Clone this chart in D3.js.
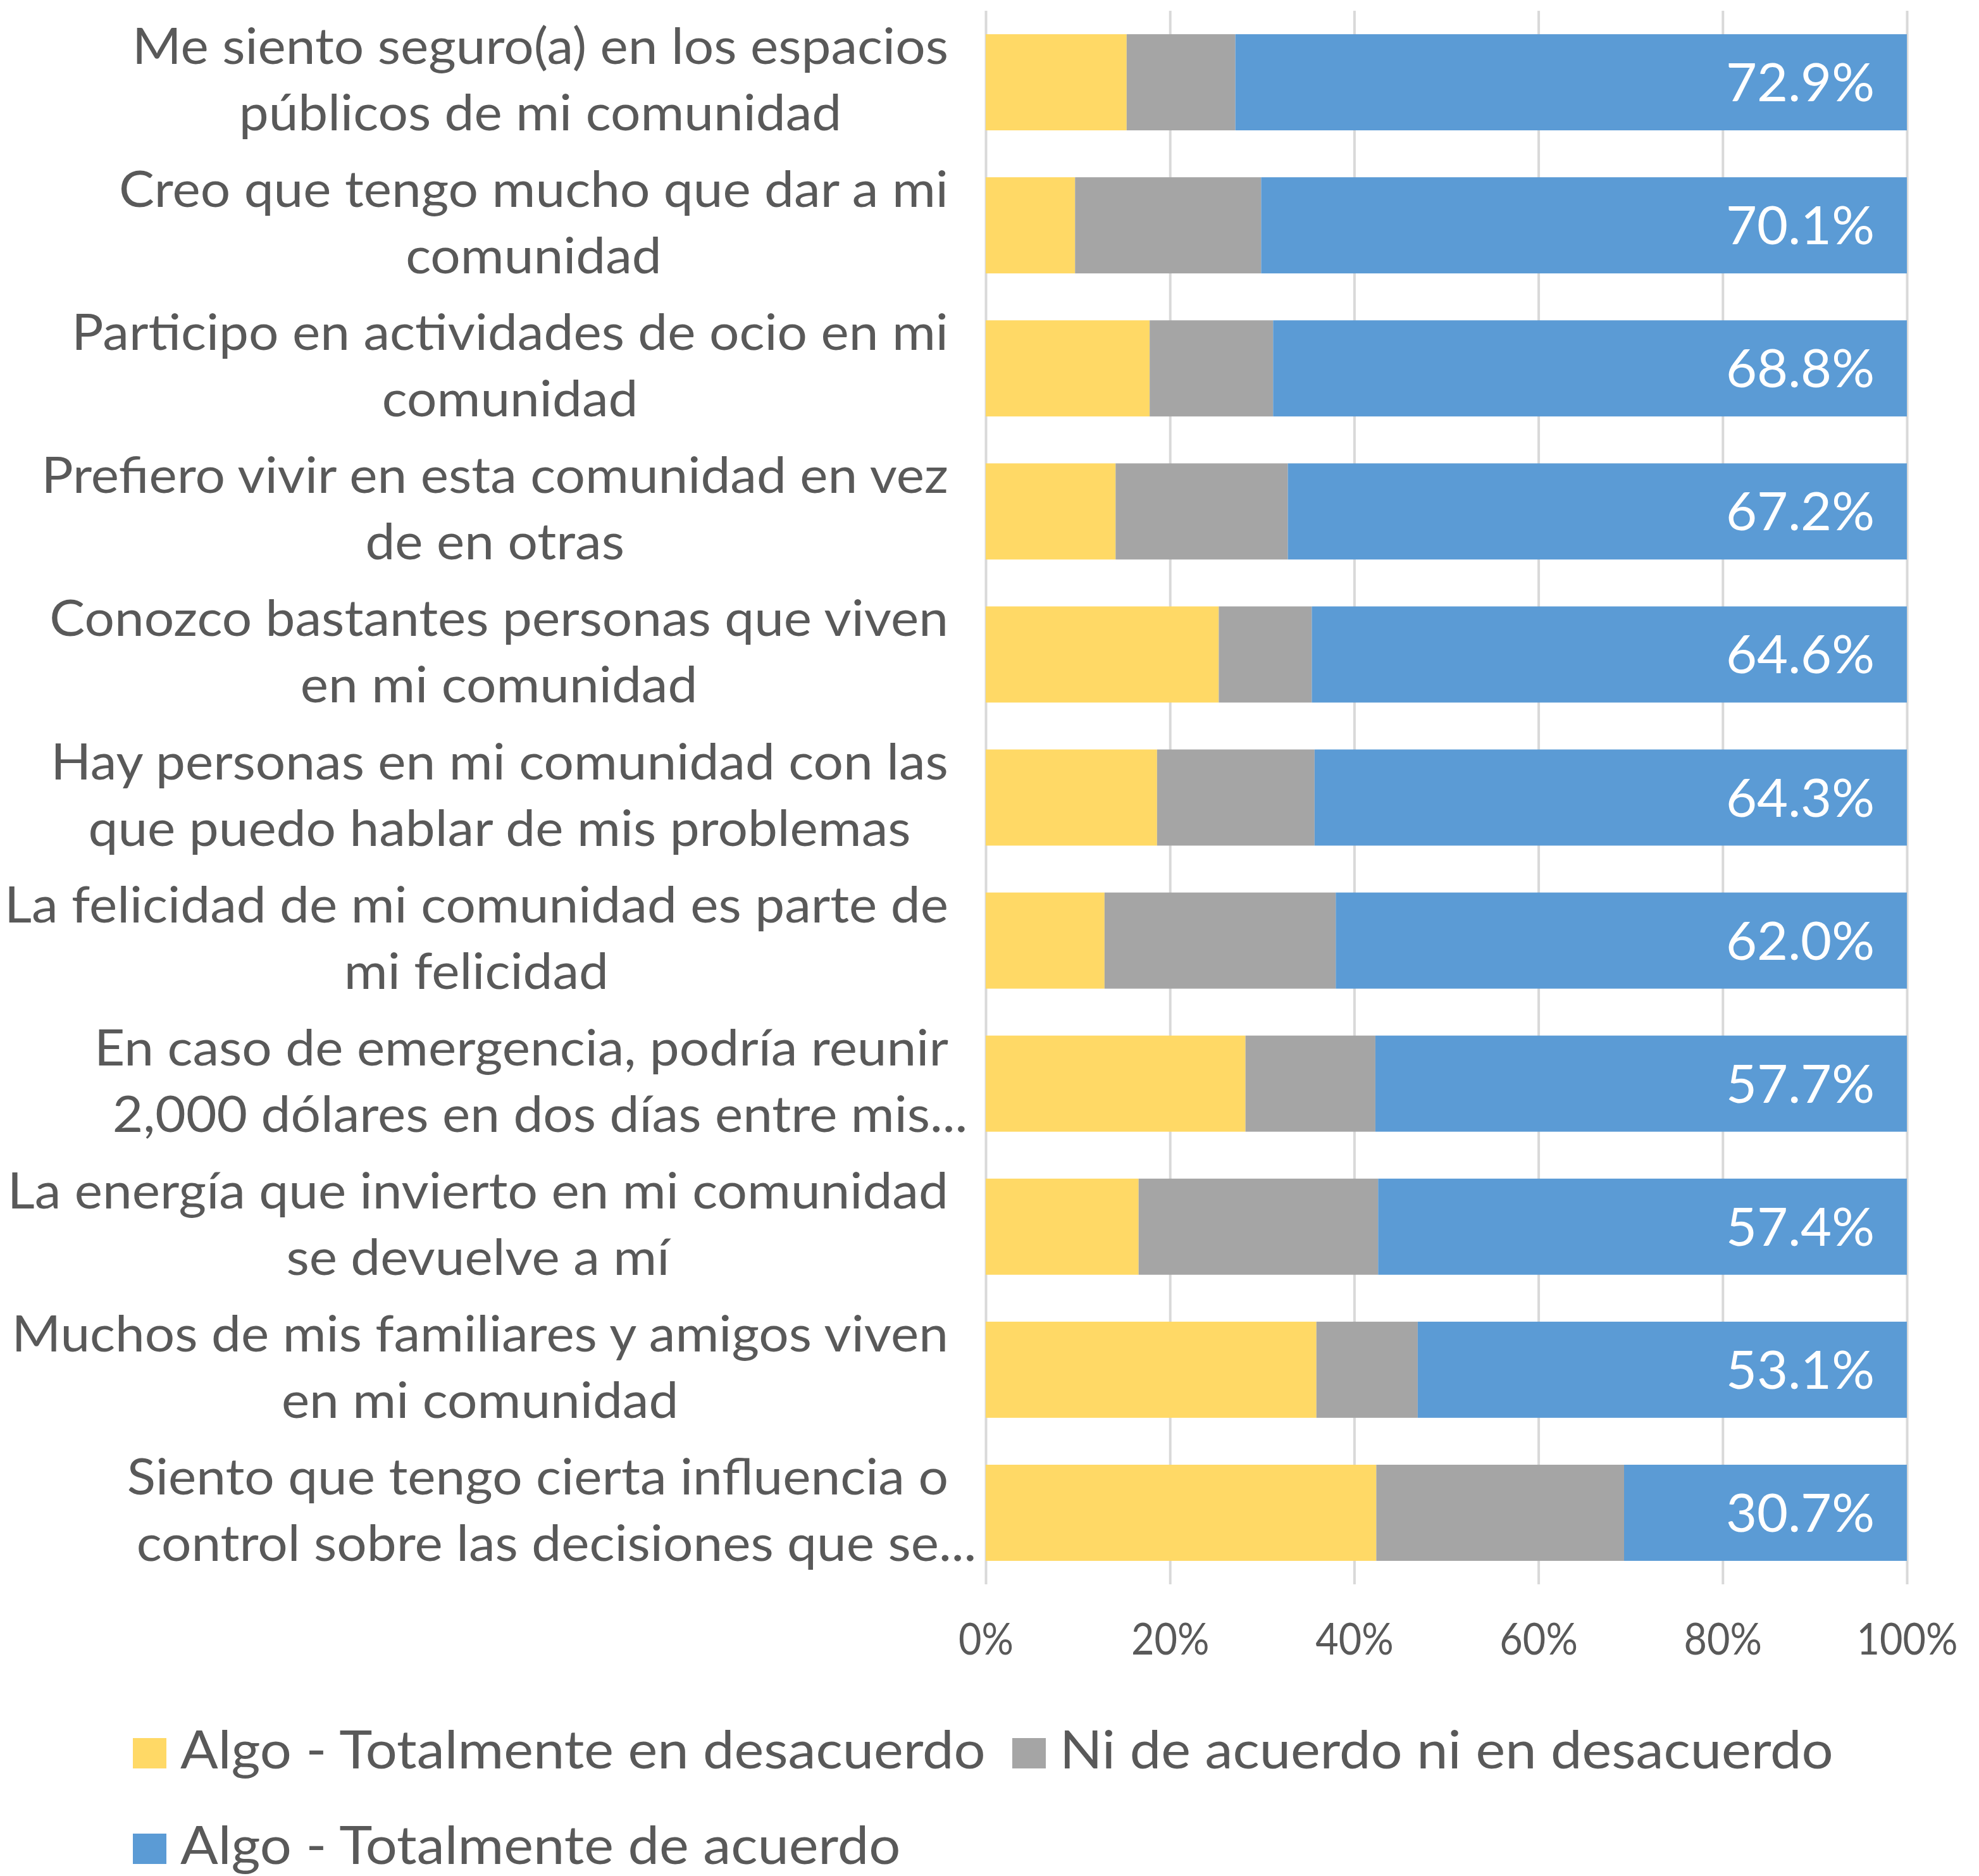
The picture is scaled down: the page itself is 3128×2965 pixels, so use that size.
<!DOCTYPE html>
<html>
<head>
<meta charset="utf-8">
<script src="https://cdn.jsdelivr.net/npm/d3@7"></script>
<style>
  html, body { margin: 0; padding: 0; background: #ffffff; }
  svg { display: block; }
</style>
</head>
<body>
<div id="chart"></div>
<script>
// ---------------- DATA ----------------
const categories = [
  "Me siento seguro(a) en los espacios|públicos de mi comunidad",
  "Creo que tengo mucho que dar a mi|comunidad",
  "Participo en actividades de ocio en mi|comunidad",
  "Prefiero vivir en esta comunidad en vez|de en otras",
  "Conozco bastantes personas que viven|en mi comunidad",
  "Hay personas en mi comunidad con las|que puedo hablar de mis problemas",
  "La felicidad de mi comunidad es parte de|mi felicidad",
  "En caso de emergencia, podría reunir|2,000 dólares en dos días entre mis...",
  "La energía que invierto en mi comunidad|se devuelve a mí",
  "Muchos de mis familiares y amigos viven|en mi comunidad",
  "Siento que tengo cierta influencia o|control sobre las decisiones que se..."
];
const seriesNames = [
  "Algo - Totalmente en desacuerdo",
  "Ni de acuerdo ni en desacuerdo",
  "Algo - Totalmente de acuerdo"
];
const desacuerdo = [15.3, 9.7, 17.8, 14.1, 25.3, 18.6, 12.9, 28.2, 16.6, 35.9, 42.4];
const neutral    = [11.8, 20.2, 13.4, 18.7, 10.1, 17.1, 25.1, 14.1, 26.0, 11.0, 26.9];
const acuerdo    = [72.9, 70.1, 68.8, 67.2, 64.6, 64.3, 62.0, 57.7, 57.4, 53.1, 30.7];
const tickValues = [0, 20, 40, 60, 80, 100];
const colors = ["#FFD966", "#A5A5A5", "#5B9BD5"];

// ---------------- LAYOUT ----------------
const W = 3128, H = 2965;
const FONT = "Lato, 'Open Sans', 'Noto Sans', sans-serif";
const TEXT = "#595959";
const plot = { left: 1558, right: 3014, top: 17, bottom: 2504 };

const svg = d3.select("#chart").append("svg")
  .attr("width", W).attr("height", H)
  .attr("viewBox", `0 0 ${W} ${H}`);
svg.append("rect").attr("width", W).attr("height", H).attr("fill", "#fff");

function measure(txt, size) {
  const t = svg.append("text").style("font-family", FONT).style("font-size", size + "px").text(txt);
  const w = t.node().getComputedTextLength();
  t.remove();
  return w;
}
// font sizes chosen to match cap heights; horizontal factors to match widths
const catSize = 79.5, dataSize = 84, tickSize = 70, legSize = 84;
const catK  = 1290 / measure("Me siento seguro(a) en los espacios", catSize);
const dataK = 235 / measure("72.9%", dataSize);
const tickK = 160 / measure("100%", tickSize);
const legK  = 1273 / measure("Algo - Totalmente en desacuerdo", legSize);

const x = d3.scaleLinear().domain([0, 100]).range([plot.left, plot.right]);
const y = d3.scaleBand().domain(categories).range([plot.top, plot.bottom])
  .paddingInner(0.328).paddingOuter(0.164);

// gridlines
const grid = svg.append("g")
  .attr("transform", `translate(0,${plot.bottom})`)
  .call(d3.axisBottom(x).tickValues(tickValues).tickSize(-(plot.bottom - plot.top)).tickFormat(""));
grid.select(".domain").remove();
grid.selectAll(".tick line").attr("stroke", "#D9D9D9").attr("stroke-width", 4);

// stacked bars
const rows = categories.map((c, i) => ({ cat: c, s0: desacuerdo[i], s1: neutral[i], s2: acuerdo[i] }));
const stack = d3.stack().keys(["s0", "s1", "s2"]);
const layers = stack(rows);
svg.append("g").selectAll("g").data(layers).join("g")
  .attr("fill", (d, i) => colors[i])
  .selectAll("rect").data(d => d).join("rect")
  .attr("x", d => x(d[0]))
  .attr("width", d => x(d[1]) - x(d[0]))
  .attr("y", d => y(d.data.cat))
  .attr("height", y.bandwidth());

// data labels (agree series)
svg.append("g").selectAll("text").data(rows).join("text")
  .attr("transform", d => `translate(${x(100) - 51},${y(d.cat) + y.bandwidth() / 2 + 30}) scale(${dataK},1)`)
  .attr("text-anchor", "end")
  .style("font-family", FONT).style("font-size", dataSize + "px")
  .attr("fill", "#ffffff")
  .text(d => d.s2.toFixed(1) + "%");

// x tick labels
const xAxis = svg.append("g")
  .attr("transform", `translate(0,${plot.bottom})`)
  .call(d3.axisBottom(x).tickValues(tickValues).tickSize(0).tickFormat(d => d + "%"));
xAxis.select(".domain").remove();
xAxis.selectAll(".tick text")
  .attr("y", null).attr("dy", null)
  .attr("transform", `translate(0,111) scale(${tickK},1)`)
  .attr("text-anchor", "middle")
  .style("font-family", FONT).style("font-size", tickSize + "px")
  .attr("fill", TEXT);

// category labels
const labelRight = plot.left - 59;
const catG = svg.append("g");
categories.forEach(c => {
  const lines = c.split("|");
  const core = lines.map(l => l.endsWith("...") ? l.slice(0, -3) : l);
  const widths = core.map(l => measure(l, catSize) * catK);
  const maxW = d3.max(widths);
  const cx = labelRight - maxW / 2;
  const cy = y(c) + y.bandwidth() / 2;
  const baselines = lines.length === 2 ? [cy - 29, cy + 76] : [cy + 28];
  lines.forEach((l, j) => {
    const ell = l.endsWith("...");
    catG.append("text")
      .attr("transform", `translate(${ell ? cx - widths[j] / 2 : cx},${baselines[j]}) scale(${catK},1)`)
      .attr("text-anchor", ell ? "start" : "middle")
      .style("font-family", FONT).style("font-size", catSize + "px")
      .attr("fill", TEXT)
      .text(l);
  });
});

// legend
const legItems = [
  { name: seriesNames[0], color: colors[0], x: 210, base: 2795 },
  { name: seriesNames[1], color: colors[1], x: null, base: 2795 },
  { name: seriesNames[2], color: colors[2], x: 210, base: 2946 }
];
legItems[1].x = 210 + 75 + measure(seriesNames[0], legSize) * legK + 42;
const legG = svg.append("g");
legItems.forEach(it => {
  legG.append("rect").attr("x", it.x).attr("y", it.base - 48).attr("width", 53).attr("height", 48).attr("fill", it.color);
  legG.append("text")
    .attr("transform", `translate(${it.x + 75},${it.base}) scale(${legK},1)`)
    .style("font-family", FONT).style("font-size", legSize + "px")
    .attr("fill", TEXT)
    .text(it.name);
});
</script>
</body>
</html>
